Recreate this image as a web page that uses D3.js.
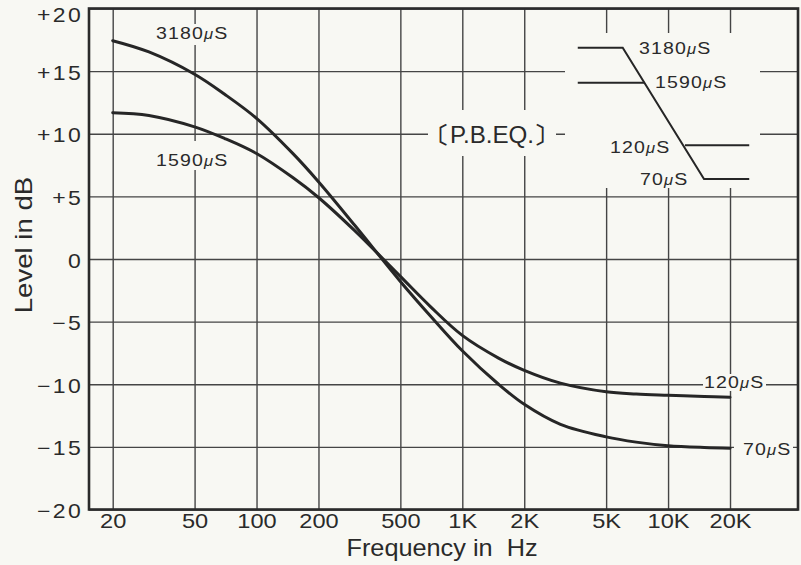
<!DOCTYPE html>
<html>
<head>
<meta charset="utf-8">
<script src="https://cdn.jsdelivr.net/npm/d3@7"></script>
<style>
  body { margin: 0; background: #f8f8f3; }
  svg { display: block; }
  text { font-family: "Liberation Sans", Arial, sans-serif; fill: #2a2a2a; white-space: pre; }
</style>
</head>
<body>
<div id="chart"></div>
<script>
const FRAME_WIDTH = 801;
const FRAME_HEIGHT = 565;
const PLOT = {left: 89, right: 798, top: 8.5, bottom: 509.5};
const BG = "#f8f8f3";
const INK = "#2b2b2b";

// axis ticks and labels
const freqTicks = [20, 50, 100, 200, 500, 1000, 2000, 5000, 10000, 20000];
const freqLabels = ["20", "50", "100", "200", "500", "1K", "2K", "5K", "10K", "20K"];
const levelTicks = [20, 15, 10, 5, 0, -5, -10, -15, -20];
const levelLabels = ["+20", "+15", "+10", "+5", "0", "−5", "−10", "−15", "−20"];

// response curves (dB)
const freqs = [20, 30, 50, 70, 100, 150, 200, 300, 500, 700, 1000, 1500, 2000, 3000, 5000, 7000, 10000, 15000, 20000];
// 3180uS at the bass end, 70uS at the treble end
const curveA = [17.43, 16.53, 14.75, 13.15, 11.23, 8.43, 6.17, 2.69, -1.79, -4.55, -7.33, -10.0, -11.6, -13.2, -14.2, -14.62, -14.91, -15.05, -15.1];
// 1590uS at the bass end, 120uS at the treble end
const curveB = [11.68, 11.46, 10.55, 9.62, 8.42, 6.50, 4.91, 2.26, -1.39, -3.80, -6.10, -7.91, -8.89, -9.91, -10.6, -10.78, -10.88, -10.98, -11.04];

// P.B.EQ. sketch in the upper right, in chart units (Hz, dB)
const insetMain = [[3640, 16.87], [6020, 16.87], [14950, 6.39], [24800, 6.39]];
const inset1590 = [[3640, 14.08], [7670, 14.08]];
const inset120 = [[12080, 9.08], [24800, 9.08]];

const svg = d3.select("#chart")
  .append("svg")
    .attr("width", FRAME_WIDTH)
    .attr("height", FRAME_HEIGHT);

svg.append("rect")
  .attr("width", FRAME_WIDTH)
  .attr("height", FRAME_HEIGHT)
  .attr("fill", BG);

const X_SCALE = d3.scaleLog()
  .domain([15.34, 42800])
  .range([PLOT.left, PLOT.right]);

const Y_SCALE = d3.scaleLinear()
  .domain([-20, 20])
  .range([PLOT.bottom, PLOT.top]);

// grid + tick labels from the axes
const xAxis = svg.append("g")
  .attr("transform", "translate(0," + PLOT.bottom + ")")
  .call(d3.axisBottom(X_SCALE)
    .tickValues(freqTicks)
    .tickFormat((d, i) => freqLabels[i])
    .tickSize(-(PLOT.bottom - PLOT.top)));

const yAxis = svg.append("g")
  .attr("transform", "translate(" + PLOT.left + ",0)")
  .call(d3.axisLeft(Y_SCALE)
    .tickValues(levelTicks)
    .tickFormat((d, i) => levelLabels[i])
    .tickSize(-(PLOT.right - PLOT.left)));

[xAxis, yAxis].forEach(a => {
  a.select(".domain").remove();
  a.selectAll("line").attr("stroke", "#454545").attr("stroke-width", 1.4);
});

xAxis.selectAll("text")
  .attr("y", 11.5)
  .attr("dy", "0.35em")
  .attr("font-size", 20)
  .attr("transform", "scale(1.18,1)")
  .attr("fill", INK);

yAxis.selectAll("text")
  .attr("x", 0)
  .attr("dy", "0.35em")
  .attr("y", d => d === 20 ? 6 : 1)
  .attr("font-size", 20)
  .attr("letter-spacing", 2)
  .attr("transform", "translate(-6,0) scale(1.15,1)")
  .attr("fill", INK);

// gaps in the grid behind the notes
const gaps = [
  {x: 428, y: 110, w: 128, h: 46},
  {x: 565, y: 33, w: 195, h: 155},
  {x: 703, y: 374, w: 63, h: 17},
  {x: 734, y: 441, w: 59, h: 16},
  {x: 154, y: 24, w: 78, h: 21},
  {x: 154, y: 141, w: 78, h: 29}
];
svg.selectAll(".gap")
  .data(gaps)
  .enter()
  .append("rect")
    .attr("x", d => d.x)
    .attr("y", d => d.y)
    .attr("width", d => d.w)
    .attr("height", d => d.h)
    .attr("fill", BG);

// frame
svg.append("rect")
  .attr("x", PLOT.left)
  .attr("y", PLOT.top)
  .attr("width", PLOT.right - PLOT.left)
  .attr("height", PLOT.bottom - PLOT.top)
  .attr("fill", "none")
  .attr("stroke", INK)
  .attr("stroke-width", 2.6);

// curves
const line = d3.line()
  .x(d => X_SCALE(d[0]))
  .y(d => Y_SCALE(d[1]))
  .curve(d3.curveCatmullRom.alpha(0.5));

[curveA, curveB].forEach(c => {
  svg.append("path")
    .datum(freqs.map((f, i) => [f, c[i]]))
    .attr("d", line)
    .attr("fill", "none")
    .attr("stroke", "#262626")
    .attr("stroke-width", 3)
    .attr("stroke-linecap", "round");
});

const straight = d3.line()
  .x(d => X_SCALE(d[0]))
  .y(d => Y_SCALE(d[1]));

[insetMain, inset1590, inset120].forEach(s => {
  svg.append("path")
    .datum(s)
    .attr("d", straight)
    .attr("fill", "none")
    .attr("stroke", "#262626")
    .attr("stroke-width", 2);
});

// text helper: slightly widened lettering like the original print
function note(x, y, str, size, opts) {
  opts = opts || {};
  const t = svg.append("text")
    .attr("transform", "translate(" + x + "," + y + ")" + (opts.rotate ? " rotate(" + opts.rotate + ")" : "") + " scale(" + (opts.k || 1.15) + ",1)")
    .attr("text-anchor", opts.anchor || "start")
    .attr("font-size", size)
    .attr("letter-spacing", opts.ls || 0)
    .attr("fill", INK);
  str.split(/(μ|〔|〕)/).forEach(part => {
    if (part === "μ") {
      t.append("tspan").attr("font-style", "italic").attr("font-size", size * 0.85).text("μ");
    } else if (part === "〔" || part === "〕") {
      t.append("tspan").attr("font-weight", 700).text(part);
    } else if (part) {
      t.append("tspan").text(part);
    }
  });
  return t;
}

note(156, 39, "3180μS", 17, {ls: 1});
note(156, 166, "1590μS", 17, {ls: 1});
note(704, 387.5, "120μS", 17, {ls: 1});
note(743, 455, "70μS", 17, {ls: 1});

note(639, 54, "3180μS", 17, {ls: 1});
note(655, 87.5, "1590μS", 17, {ls: 1});
note(610, 152.5, "120μS", 17, {ls: 1});
note(640, 185, "70μS", 17, {ls: 1});

note(492, 143, "〔P.B.EQ.〕", 23, {anchor: "middle", k: 1.05});

note(442, 556, "Frequency in  Hz", 23, {anchor: "middle", k: 1.1});
note(32, 245, "Level in dB", 23, {anchor: "middle", rotate: -90, k: 1.2});
</script>
</body>
</html>
